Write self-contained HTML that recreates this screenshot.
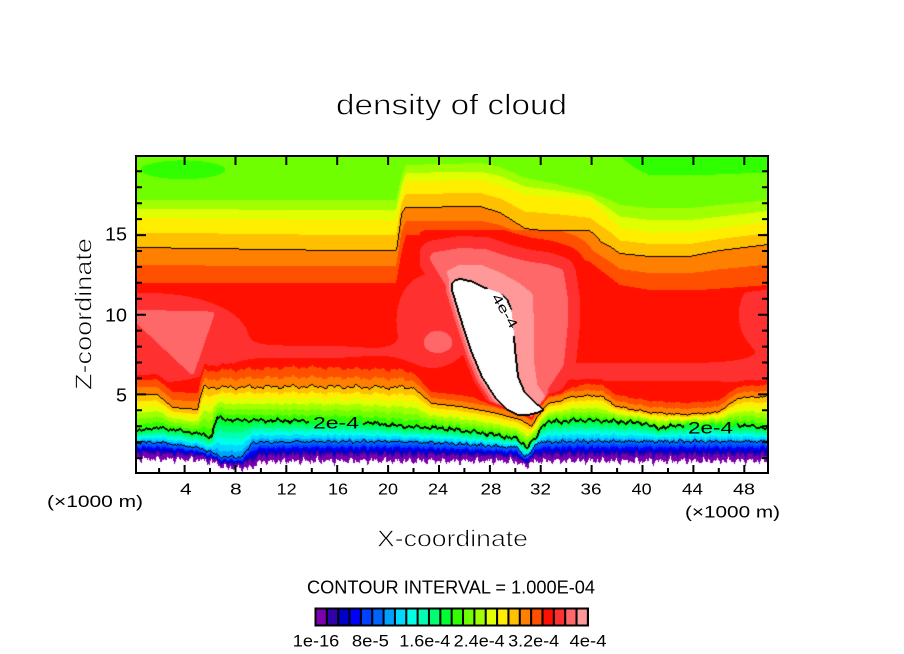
<!DOCTYPE html>
<html><head><meta charset="utf-8"><title>density of cloud</title>
<style>
html,body{margin:0;padding:0;background:#fff;width:904px;height:654px;overflow:hidden}
#w{position:relative;width:904px;height:654px;background:#fff}
#c{position:absolute;left:137px;top:157px;width:631px;height:316px}
#s{position:absolute;left:0;top:0}
text{font-family:"Liberation Sans",Arial,sans-serif;fill:#000}
.thin{stroke:#fff;stroke-width:0.7px}
</style></head><body><div id="w">
<canvas id="c" width="631" height="316"></canvas>
<svg id="s" width="904" height="654" viewBox="0 0 904 654" xmlns="http://www.w3.org/2000/svg">
<rect x="136" y="156" width="632" height="317" fill="none" stroke="#000" stroke-width="2"/>
<path fill="none" stroke="#000" stroke-width="2" d="
M184.6 472V465M235.5 472V465M286.3 472V465M337.2 472V465M388.1 472V465M439 472V465M489.9 472V465M540.7 472V465M591.6 472V465M642.5 472V465M693.4 472V465M744.3 472V465
M159.1 472V468M210 472V468M260.9 472V468M311.8 472V468M362.7 472V468M413.5 472V468M464.4 472V468M515.3 472V468M566.2 472V468M617.1 472V468M668 472V468M718.8 472V468
M184.6 157V165M235.5 157V165M286.3 157V165M337.2 157V165M388.1 157V165M439 157V165M489.9 157V165M540.7 157V165M591.6 157V165M642.5 157V165M693.4 157V165M744.3 157V165
M137 458.1H142M137 442.1H142M137 426.2H142M137 410.3H142M137 394.4H146M137 378.4H142M137 362.5H142M137 346.6H142M137 330.6H142M137 314.7H146M137 298.8H142M137 282.8H142M137 266.9H142M137 251H142M137 235.1H146M137 219.1H142M137 203.2H142M137 187.3H142M137 171.3H142
M767 458.1H762M767 442.1H762M767 426.2H762M767 410.3H762M767 394.4H758M767 378.4H762M767 362.5H762M767 346.6H762M767 330.6H762M767 314.7H758M767 298.8H762M767 282.8H762M767 266.9H762M767 251H762M767 235.1H758M767 219.1H762M767 203.2H762M767 187.3H762M767 171.3H762"/>

<text class="thin" x="336" y="114.5" font-size="29" textLength="231" lengthAdjust="spacingAndGlyphs">density of cloud</text>
<text class="thin" x="377" y="546.5" font-size="23" textLength="151" lengthAdjust="spacingAndGlyphs">X-coordinate</text>
<text class="thin" transform="translate(91.5,390) rotate(-90)" x="0" y="0" font-size="23" textLength="152" lengthAdjust="spacingAndGlyphs">Z-coordinate</text>
<text x="47" y="507" font-size="17" textLength="96" lengthAdjust="spacingAndGlyphs">(×1000 m)</text>
<text x="685" y="517.5" font-size="17" textLength="95" lengthAdjust="spacingAndGlyphs">(×1000 m)</text>

<text x="105" y="240.7" font-size="18" textLength="22" lengthAdjust="spacingAndGlyphs">15</text>
<text x="105" y="321.5" font-size="18" textLength="22" lengthAdjust="spacingAndGlyphs">10</text>
<text x="116" y="401.5" font-size="18" textLength="11" lengthAdjust="spacingAndGlyphs">5</text>

<g font-size="16">
<text x="180" y="494.5" textLength="11.7" lengthAdjust="spacingAndGlyphs">4</text>
<text x="230" y="494.5" textLength="11.7" lengthAdjust="spacingAndGlyphs">8</text>
<text x="276.7" y="494.5" textLength="20" lengthAdjust="spacingAndGlyphs">12</text>
<text x="328" y="494.5" textLength="20" lengthAdjust="spacingAndGlyphs">16</text>
<text x="378" y="494.5" textLength="20" lengthAdjust="spacingAndGlyphs">20</text>
<text x="428" y="494.5" textLength="20" lengthAdjust="spacingAndGlyphs">24</text>
<text x="480.5" y="494.5" textLength="21" lengthAdjust="spacingAndGlyphs">28</text>
<text x="530" y="494.5" textLength="21" lengthAdjust="spacingAndGlyphs">32</text>
<text x="580.5" y="494.5" textLength="21" lengthAdjust="spacingAndGlyphs">36</text>
<text x="631.7" y="494.5" textLength="20" lengthAdjust="spacingAndGlyphs">40</text>
<text x="682" y="494.5" textLength="21" lengthAdjust="spacingAndGlyphs">44</text>
<text x="733" y="494.5" textLength="22" lengthAdjust="spacingAndGlyphs">48</text>
</g>

<text x="307" y="593.5" font-size="18.5" textLength="288" lengthAdjust="spacingAndGlyphs">CONTOUR INTERVAL = 1.000E-04</text>

<rect x="314.5" y="607.5" width="274.5" height="19" fill="#000"/>
<g id="cb"></g>

<g font-size="17">
<text x="292.8" y="646.5" textLength="46.5" lengthAdjust="spacingAndGlyphs">1e-16</text>
<text x="351.9" y="646.5" textLength="37" lengthAdjust="spacingAndGlyphs">8e-5</text>
<text x="399.3" y="646.5" textLength="51" lengthAdjust="spacingAndGlyphs">1.6e-4</text>
<text x="453.7" y="646.5" textLength="51" lengthAdjust="spacingAndGlyphs">2.4e-4</text>
<text x="508.1" y="646.5" textLength="51" lengthAdjust="spacingAndGlyphs">3.2e-4</text>
<text x="569.5" y="646.5" textLength="37" lengthAdjust="spacingAndGlyphs">4e-4</text>
</g>

<text x="313" y="428.5" font-size="17" textLength="46" lengthAdjust="spacingAndGlyphs">2e-4</text>
<text x="688" y="433.5" font-size="17" textLength="45" lengthAdjust="spacingAndGlyphs">2e-4</text>
<text transform="translate(505,311) rotate(59)" x="-19" y="4.5" font-size="13" textLength="38" lengthAdjust="spacingAndGlyphs">4e-4</text>
</svg></div>
<script>
(function(){
var W=631,H=316,X0=137,Y0=157;
var hex=['7c00b0','3000a8','0000c8','0000ff','0040ff','0064ff','00a0ff','00d8ff','00ffe8','00ffb0','00ff70','00ff30','30ff00','70ff00','a0ff00','e0ff00','ffee00','ffc000','ff8000','ff5000','ff1000','ff3030','ff6868','ff9898'];
var cols=hex.map(function(h){return [parseInt(h.substr(0,2),16),parseInt(h.substr(2,2),16),parseInt(h.substr(4,2),16)];});
var NS='http://www.w3.org/2000/svg',cb=document.getElementById('cb');
for(var i=0;i<24;i++){var r=document.createElementNS(NS,'rect');r.setAttribute('x',(316.5+11.35*i).toFixed(2));r.setAttribute('y','609.5');r.setAttribute('width','9.3');r.setAttribute('height','15');r.setAttribute('fill','#'+hex[i]);cb.appendChild(r);}

function T(t,x){if(x<=t[0])return t[1];for(var i=2;i<t.length;i+=2){if(x<=t[i]){return t[i-1]+(t[i+1]-t[i-1])*(x-t[i-2])/(t[i]-t[i-2]);}}return t[t.length-1];}
function G(x,y,cx,cy,sx,sy){var a=(x-cx)/sx,b=(y-cy)/sy;return Math.exp(-(a*a+b*b));}
function nz(x){return Math.sin(x*0.7)*1.0+Math.sin(x*1.6+1)*0.5+Math.sin(x*0.29+2)*1.2;}
function nzs(x){return Math.round(Math.sin(x*0.45)*1.2+Math.sin(x*1.1+0.7)*0.8);}
function inPoly(p,x,y){var c=false;for(var i=0,j=p.length-1;i<p.length;j=i++){var xi=p[i][0],yi=p[i][1],xj=p[j][0],yj=p[j][1];if(((yi>y)!=(yj>y))&&(x<(xj-xi)*(y-yi)/(yj-yi)+xi))c=!c;}return c;}
function pdist(p,x,y){var best=1e12;for(var i=0,j=p.length-1;i<p.length;j=i++){var ax=p[j][0],ay=p[j][1],dx=p[i][0]-ax,dy=p[i][1]-ay;var t=((x-ax)*dx+(y-ay)*dy)/(dx*dx+dy*dy);if(t<0)t=0;if(t>1)t=1;var qx=ax+t*dx-x,qy=ay+t*dy-y;var d2=qx*qx+qy*qy;if(d2<best)best=d2;}return Math.sqrt(best);}

var vtop=[137,13.5,330,13.5,400,13.6,480,13.8,560,13.5,620,13.0,650,12.4,768,12.4];
var y14u=[137,200,340,200,396,200,402,175,406,165,480,163,500,167,525,178,560,185,590,192,610,200,620,205,650,208,690,208,768,200];
var y16u=[137,218,340,220,396,220,402,192,406,181,480,180,500,185,525,195,560,197,590,200,610,218,620,228,650,232,690,232,768,222];
var y18u=[137,247,340,250,396,250,399,230,401,214,405,207,480,206,500,212,525,228,560,232,590,236,610,246,620,253,650,256,690,256,720,250,768,244];
var y20u=[137,283,340,283,396,283,402,250,406,235,480,235,525,242,560,252,590,262,620,285,650,290,700,290,768,285];
var y18l=[137,395,157,395,173,408,198,410,201,396,204,388,300,387,413,388,432,404,460,407,493,413,520,420,532,427,537,418,547,405,573,397,600,396,617,407,650,413,683,415,717,413,740,398,768,397];
var y20o=[137,15,300,20,400,18,430,12,768,12];
var y12=[137,432,150,428,163,428,200,434,212,437,214,426,217,418,230,420,300,421,360,422,400,426,450,429,490,434,517,439,527,447,537,437,543,424,550,422,583,420,643,423,657,428,683,425,740,425,768,428];
var y6=[137,443,160,443,197,448,210,452,220,457,240,458,247,452,252,443,300,442,400,442,450,444,517,448,525,457,530,455,537,443,567,442,650,442,767,442];
var y0=[137,459,200,460,215,463,225,468,250,468,260,462,300,461,500,461,517,462,525,467,533,462,550,461,768,461];

var blob=[[451.7,283.5],[455,280],[461,279],[471.7,281.5],[485,288],[498,292],[507,299],[511,309],[513,323],[515,350],[518,377],[525,393],[535,403],[541,407],[544,410],[538,412.5],[528,415],[518,415],[508,410],[495,397],[482,377],[472,353],[462,323],[455,300],[452,290]];
var pink=[[452,284],[448,272],[460,266],[480,266],[500,274],[518,284],[531,294],[533,330],[533,365],[536,385],[546,400],[545,410],[530,410],[500,380],[470,330]];
var salm=[[452,284],[436,258],[460,254],[485,255],[505,262],[525,267],[545,270],[558,274],[562,300],[562,323],[558,363],[548,378],[540,390],[548,402],[545,410],[530,410],[500,380],[470,330]];
var triL=[[128,312],[212,314],[192,372]];

function core(X,Y){
 var c=20.5;
 c+=1.2*G(X,Y,150,338,105,48);
 c+=1.0*G(X,Y,430,320,40,55);
 c+=1.4*G(X,Y,440,343,18,13);
 c+=1.0*G(X,Y,768,315,35,45);
 var dy=(Y-372)/12;c+=0.9*Math.exp(-dy*dy)/(1+Math.exp(-(X-545)/8));
 c+=0.7*G(X,Y,330,352,70,9);
 if(X<235&&Y>290&&Y<395){var f=inPoly(triL,X,Y)?22.6:22.6-0.25*pdist(triL,X,Y);if(f>c)c=f;}
 return c;
}

var v=new Float32Array(W*H);
for(var i=0;i<W;i++){
 var X=X0+i+0.5;
 var vt=T(vtop,X),a14=T(y14u,X),a16=T(y16u,X),a18=T(y18u,X),a20=T(y20u,X);
 var b18=T(y18l,X);if(X>204&&X<413)b18+=nz(X)*0.9;
 if(X>540)b18+=0.4*nz(X*1.2+20);
 var b20=b18-T(y20o,X);
 var b12=T(y12,X)+0.6*nz(X*1.1+50)+0.5*nzs(X*1.7);
 var b6=T(y6,X)+0.5*nz(X*1.3+100)+0.5*nzs(X*1.9+3);
 var b0=T(y0,X)+1.6*Math.sin(X*0.55)+1.2*Math.sin(X*1.3+0.5)+nzs(X*2.1);
 if(a14<158)a14=158;if(a16<a14+1)a16=a14+1;if(a18<a16+1)a18=a16+1;if(a20<a18+1)a20=a18+1;
 if(b20<a20+2)b20=a20+2;if(b18<b20+1)b18=b20+1;if(b12<b18+2)b12=b18+2;if(b6<b12+2)b6=b12+2;if(b0<b6+3)b0=b6+3;
 var pp=Math.min(6,(b0-b6)*0.35);
 for(var j=0;j<H;j++){
  var Y=Y0+j+0.5,val;
  if(Y<a14){val=vt+(14-vt)*(Y-156)/(a14-156);val-=1.2*G(X,Y,183,171,55,12);}
  else if(Y<a16)val=14+2*(Y-a14)/(a16-a14);
  else if(Y<a18)val=16+2*(Y-a16)/(a18-a16);
  else if(Y<a20)val=18+2*(Y-a18)/(a20-a18);
  else if(Y<b20){var c=core(X,Y);var r=Math.min(1,(Y-a20)/6,(b20-Y)/6);if(r<0)r=0;val=20+(c-20)*r;}
  else if(Y<b18)val=20-2*(Y-b20)/(b18-b20);
  else if(Y<b12)val=18-6*(Y-b18)/(b12-b18);
  else if(Y<b6)val=12-6*(Y-b12)/(b6-b12);
  else if(Y<b0-pp)val=6-5*(Y-b6)/(b0-pp-b6);
  else if(Y<b0)val=1-(Y-(b0-pp))/pp;
  else val=-1;
  if(X>420&&X<600&&Y>230&&Y<440){
   if(inPoly(blob,X,Y)){val=25;}
   else{
    var vb=24-pdist(blob,X,Y)/3;
    var fp=inPoly(pink,X,Y)?23.5:23.5-0.35*pdist(pink,X,Y);
    var fs=inPoly(salm,X,Y)?22.5:22.5-pdist(salm,X,Y)/12;
    if(fp>vb)vb=fp;if(fs>vb)vb=fs;
    if(vb>val){var m=(b18-6-Y)/6;if(m<0)m=0;if(m>1)m=1;val=val+(vb-val)*m;}
   }
  }
  v[j*W+i]=val;
 }
}
var cv=document.getElementById('c'),ctx=cv.getContext('2d');
var img=ctx.createImageData(W,H),d=img.data;
for(var k=0;k<W*H;k++){var val=v[k],r=255,g=255,b=255;if(val>=0&&val<24){var cc=cols[Math.floor(val)];r=cc[0];g=cc[1];b=cc[2];}d[4*k]=r;d[4*k+1]=g;d[4*k+2]=b;d[4*k+3]=255;}
function masked(k){var i=k%W,j=(k-i)/W;var X=X0+i+0.5,Y=Y0+j+0.5;
 if(X>309&&X<363&&Y>412&&Y<432)return true;
 if(X>684&&X<737&&Y>418&&Y<438)return true;
 var ax=493,ay=291,bx=517,by=331,dx=bx-ax,dy=by-ay;var t=((X-ax)*dx+(Y-ay)*dy)/(dx*dx+dy*dy);if(t<0)t=0;if(t>1)t=1;var px=ax+t*dx-X,py=ay+t*dy-Y;if(px*px+py*py<36)return true;
 return false;}
function mark(k){if(masked(k))return;d[4*k]=0;d[4*k+1]=0;d[4*k+2]=0;}
var LV=[6,12,18,24],TH=[0,1,0,1];
for(var j=0;j<H;j++){for(var i=0;i<W;i++){var k=j*W+i;
 for(var l=0;l<4;l++){var L=LV[l],a=v[k]>=L;
  if(i+1<W){var bb=v[k+1]>=L;if(a!=bb){mark(a?k:k+1);if(TH[l])mark(a?k+1:k);}}
  if(j+1<H){var bb2=v[k+W]>=L;if(a!=bb2){mark(a?k:k+W);if(TH[l])mark(a?k+W:k);}}
 }}}
ctx.putImageData(img,0,0);
})();
</script></body></html>
